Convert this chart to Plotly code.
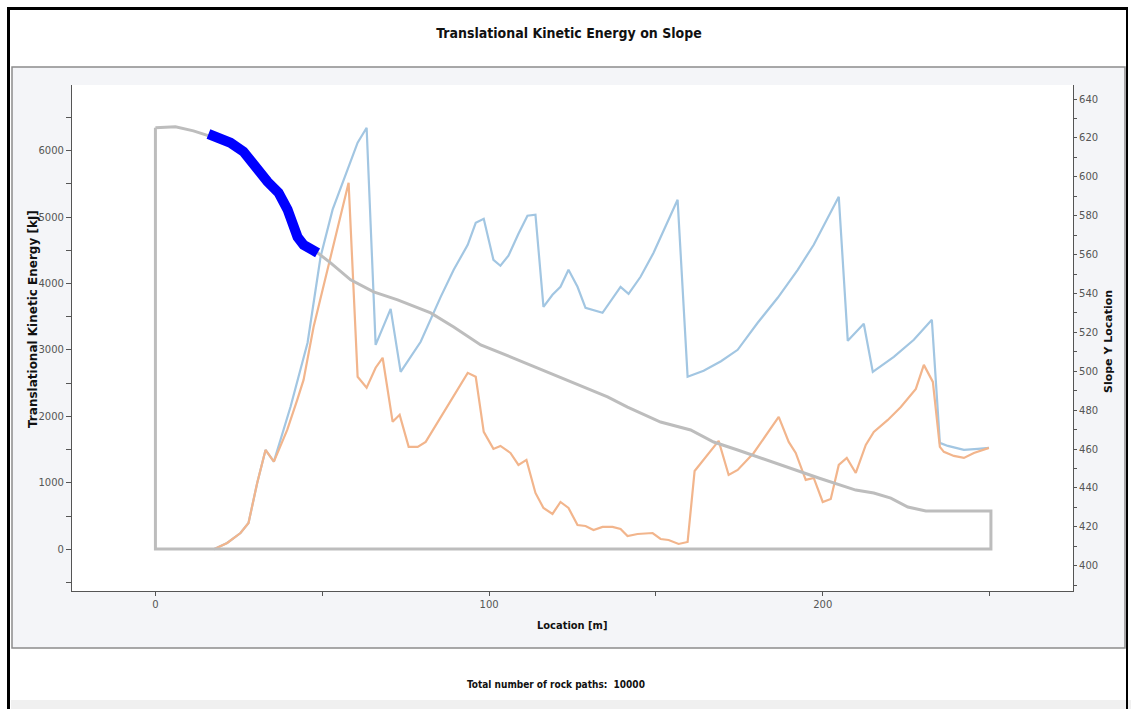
import plotly.graph_objects as go

# Location along the slope [m] and translational kinetic energy [kJ]
max_x = [17.5, 21.5, 25.5, 27.9, 30.5, 33.0, 35.5, 40.5, 45.6, 49.5, 53.1, 56.4,
         60.6, 63.3, 66.0, 70.5, 73.5, 79.5, 85.5, 89.4, 93.6, 96.0, 98.4, 101.3,
         103.4, 105.8, 108.8, 111.5, 113.9, 116.3, 119.0, 121.4, 123.8, 126.5,
         128.9, 134.0, 139.4, 141.8, 145.4, 149.3, 156.5, 159.5, 164.3, 169.5,
         174.5, 180.5, 186.5, 192.5, 197.3, 204.8, 207.5, 212.3, 215.0, 221.3,
         227.3, 232.7, 235.1, 237.5, 242.3, 246.5, 249.8]
max_e = [0, 95, 245, 396, 998, 1495, 1319, 2145, 3109, 4404, 5112, 5564,
         6121, 6345, 3077, 3620, 2671, 3123, 3800, 4207, 4584, 4915, 4975, 4358,
         4268, 4418, 4750, 5021, 5036, 3650, 3831, 3951, 4207, 3951,
         3635, 3560, 3951, 3846, 4102, 4463, 5262, 2597, 2687, 2830,
         3003, 3410, 3786, 4207, 4584, 5307, 3138, 3394, 2671, 2897,
         3153, 3454, 1602, 1556, 1496, 1511, 1526]

mean_x = [17.5, 21.5, 25.5, 27.9, 30.5, 33.0, 35.5, 39.5, 42.5, 44.4, 47.4, 57.9,
          60.6, 63.3, 66.0, 68.1, 71.1, 73.2, 75.9, 78.6, 81.0, 93.6, 96.0, 98.4,
          101.3, 103.4, 106.4, 108.8, 111.2, 113.9, 116.3, 119.0, 121.4, 123.8,
          126.5, 128.9, 131.3, 134.0, 137.0, 139.4, 141.5, 144.5, 149.0, 151.4,
          153.8, 156.8, 159.5, 161.6, 168.8, 171.8, 174.5, 179.3, 186.8, 189.8,
          191.9, 194.9, 197.3, 200.0, 202.4, 204.8, 207.2, 209.9, 212.9, 215.3,
          219.5, 223.4, 227.9, 230.3, 233.0, 235.1, 236.3, 239.3, 242.3, 245.3,
          249.8]
mean_e = [0, 95, 245, 396, 998, 1495, 1319, 1797, 2248, 2549, 3347, 5516,
          2597, 2431, 2733, 2883, 1919, 2024, 1542, 1542, 1617, 2656, 2596, 1767,
          1511, 1556, 1450, 1269, 1345, 848, 622, 532, 712, 622,
          366, 351, 291, 336, 336, 306, 200, 230, 245, 155,
          140, 80, 110, 1179, 1631, 1119, 1194, 1450, 1992, 1616,
          1450, 1044, 1074, 712, 757, 1270, 1375, 1149, 1571, 1767,
          1947, 2143, 2414, 2776, 2520, 1541, 1466, 1405, 1375, 1450,
          1526]

# Slope profile (closed outline) on the Slope Y Location axis
slope_x = [0, 6.0, 11.4, 15.0, 15.9, 22.5, 26.4, 30.6, 33.6, 36.9, 39.6, 42.6,
           44.4, 48.6, 52.5, 58.5, 65.4, 72.6, 82.5, 89.4, 97.5, 107.3, 117.5,
           126.5, 135.5, 141.5, 151.4, 160.4, 167.3, 174.5, 187.4, 199.0, 209.9,
           215.3, 220.4, 225.5, 230.9, 250.4, 250.4, 0, 0]
slope_y = [625.2, 625.7, 623.6, 621.6, 621.0, 617.5, 612.9, 603.6, 597.5, 591.8,
           583.1, 569.0, 565.0, 560.9, 555.7, 547.0, 540.8, 536.7, 530.0, 522.8,
           513.5, 506.8, 499.6, 492.9, 486.8, 481.6, 473.9, 469.8, 463.6, 459.5,
           451.8, 445.0, 438.9, 437.4, 434.8, 430.2, 428.1, 428.1, 408.6, 408.6,
           625.2]

# Seeder line along the upper slope
seed_x = [15.9, 22.5, 26.4, 30.6, 33.6, 36.9, 39.6, 42.6, 44.4, 48.6]
seed_y = [622.0, 617.5, 612.9, 603.6, 597.5, 591.8, 583.1, 569.0, 565.0, 560.9]

# plot area in pixels
L, R, T, B = 72, 1073, 85, 591
W, H = 1131, 709


def px(x):
    return (x - L) / (R - L)


def py(y):
    return (B - y) / (B - T)


fig = go.Figure()
fig.add_trace(go.Scatter(x=max_x, y=max_e, mode="lines", name="Maximum",
                         line=dict(color="#a2c6e2", width=2.2)))
fig.add_trace(go.Scatter(x=mean_x, y=mean_e, mode="lines", name="Mean",
                         line=dict(color="#f2b58c", width=2.2)))
fig.add_trace(go.Scatter(x=slope_x, y=slope_y, mode="lines", name="Slope",
                         yaxis="y2", line=dict(color="#bdbdbd", width=3)))
fig.add_trace(go.Scatter(x=seed_x, y=seed_y, mode="lines", name="Seeder",
                         yaxis="y2", line=dict(color="#0000ff", width=10)))

tickfont = dict(family="DejaVu Sans", size=10, color="#555555")
axcol = "#555555"

shapes = [
    # page frame
    dict(type="rect", xref="paper", yref="paper", layer="below",
         x0=px(12), x1=px(1125), y0=py(648), y1=py(67),
         fillcolor="#f4f5f8", line=dict(color="#8c8c8c", width=1.5)),
    dict(type="rect", xref="paper", yref="paper", layer="below",
         x0=px(L), x1=px(R), y0=py(B), y1=py(T),
         fillcolor="white", line=dict(width=0)),
    dict(type="rect", xref="paper", yref="paper", layer="below",
         x0=px(11), x1=px(1131), y0=py(709), y1=py(700),
         fillcolor="#f0f0f0", line=dict(width=0)),
    dict(type="line", xref="paper", yref="paper",
         x0=px(8.5), x1=px(8.5), y0=py(709), y1=py(7.5),
         line=dict(color="black", width=3)),
    dict(type="line", xref="paper", yref="paper",
         x0=px(7), x1=px(1128), y0=py(8.5), y1=py(8.5),
         line=dict(color="black", width=3)),
    dict(type="line", xref="paper", yref="paper",
         x0=px(1127), x1=px(1127), y0=py(709), y1=py(7.5),
         line=dict(color="black", width=2)),
]


def label(text, x, y, size, family="DejaVu Sans", angle=0):
    return dict(text=f"<b>{text}</b>", xref="paper", yref="paper",
                x=px(x), y=py(y), xanchor="center", yanchor="middle",
                showarrow=False, textangle=angle,
                font=dict(family=family, size=size, color="#111"))


annotations = [
    label("Location [m]", 572, 625, 11, "DejaVu Sans Condensed"),
    label("Translational Kinetic Energy [kJ]", 33, 319, 12, angle=-90),
    label("Slope Y Location", 1108, 342, 11, angle=-90),
    label("Total number of rock paths:  10000", 556, 684, 10, "DejaVu Sans Condensed"),
]

fig.update_layout(
    width=W, height=H,
    margin=dict(l=L, r=W - R, t=T, b=H - B),
    paper_bgcolor="white", plot_bgcolor="white",
    showlegend=False,
    title=dict(text="<b>Translational Kinetic Energy on Slope</b>",
               x=px(569), xanchor="center", xref="paper",
               y=1 - 33 / H, yanchor="middle", yref="container",
               font=dict(family="DejaVu Sans Condensed", size=14, color="#111")),
    xaxis=dict(range=[-25, 275], dtick=100, tick0=0, showgrid=False, zeroline=False,
               showline=True, linecolor=axcol, linewidth=1.2,
               ticks="outside", ticklen=4, tickcolor=axcol, tickfont=tickfont,
               minor=dict(dtick=50, ticks="outside", ticklen=4, tickcolor=axcol)),
    xaxis2=dict(range=[-25, 275], dtick=100, tick0=0, overlaying="x", anchor="y",
                side="bottom", showgrid=False, zeroline=False, showticklabels=False,
                ticks="inside", ticklen=3, tickcolor=axcol,
                minor=dict(dtick=50, ticks="inside", ticklen=3, tickcolor=axcol)),
    yaxis=dict(range=[-628, 6989], dtick=1000, tick0=0, showgrid=False, zeroline=False,
               showline=True, linecolor=axcol, linewidth=1.2,
               ticks="outside", ticklen=5, tickcolor=axcol, tickfont=tickfont,
               minor=dict(dtick=500, ticks="outside", ticklen=5, tickcolor=axcol)),
    yaxis2=dict(range=[387.0, 647.2], dtick=20, tick0=400, overlaying="y", side="right",
                anchor="x", showgrid=False, zeroline=False,
                showline=True, linecolor=axcol, linewidth=1.2,
                ticks="outside", ticklen=3, tickcolor=axcol, tickfont=tickfont,
                minor=dict(dtick=10, ticks="outside", ticklen=3, tickcolor=axcol)),
    yaxis3=dict(range=[-628, 6989], dtick=1000, tick0=0, overlaying="y", side="left",
                anchor="x", showgrid=False, zeroline=False, showticklabels=False,
                ticks="inside", ticklen=3, tickcolor=axcol,
                minor=dict(dtick=500, ticks="inside", ticklen=3, tickcolor=axcol)),
    yaxis4=dict(range=[387.0, 647.2], dtick=20, tick0=400, overlaying="y", side="right",
                anchor="x", showgrid=False, zeroline=False, showticklabels=False,
                ticks="inside", ticklen=3, tickcolor=axcol,
                minor=dict(dtick=10, ticks="inside", ticklen=3, tickcolor=axcol)),
    shapes=shapes,
    annotations=annotations,
)

fig.write_html("out.html")
